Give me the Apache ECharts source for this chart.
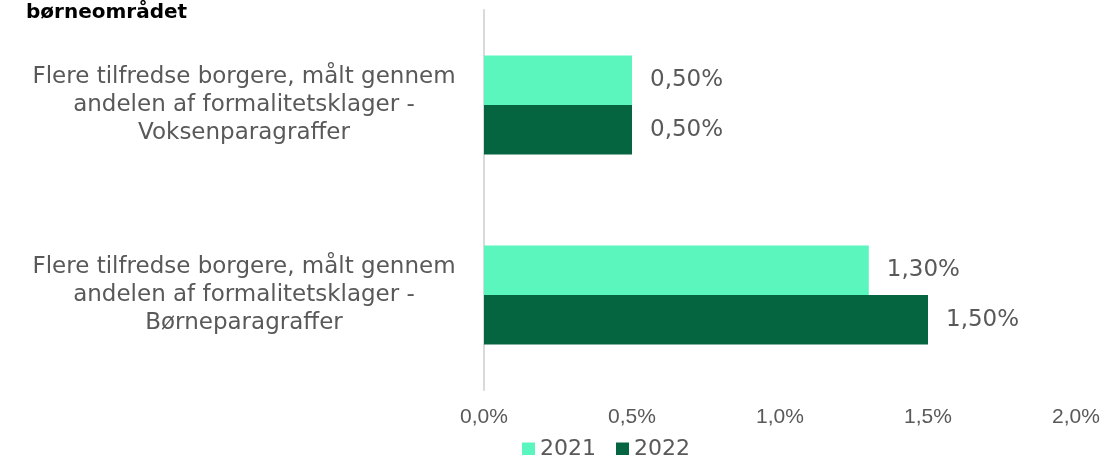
<!DOCTYPE html>
<html>
<head>
<meta charset="utf-8">
<script src="https://cdn.jsdelivr.net/npm/echarts@6/dist/echarts.min.js"></script>
<style>
  html, body { margin: 0; padding: 0; background: #fff; }
  #chart { width: 1110px; height: 455px; }
</style>
</head>
<body>
<div id="chart"></div>
<script>
// data
const categories = [
  'Flere tilfredse borgere, målt gennem\nandelen af formalitetsklager -\nVoksenparagraffer',
  'Flere tilfredse borgere, målt gennem\nandelen af formalitetsklager -\nBørneparagraffer'
]
const seriesNames = ['2021', '2022']
const values2021 = [0.5, 1.3]
const values2022 = [0.5, 1.5]
const xTicks = [0, 0.5, 1.0, 1.5, 2.0]

const colors = ['#5af6be', '#066541']
const font = '"DejaVu Sans", sans-serif'
const axisFont = '"Liberation Sans", Arial, sans-serif'
const gray = '#595959'

const fmtComma = (v, d) => v.toFixed(d).replace('.', ',') + '%'

let myChart = echarts.init(document.getElementById('chart'))

let barSeries = [values2021, values2022].map((data, i) => ({
  name: seriesNames[i],
  type: 'bar',
  data: data,
  barGap: '0%',
  barCategoryGap: '48%',
  itemStyle: { color: colors[i] },
  label: {
    show: true,
    position: 'right',
    distance: 18,
    color: gray,
    fontFamily: font,
    fontSize: 23,
    formatter: p => fmtComma(p.value, 2)
  }
}))

let options = {
  animation: false,
  title: {
    text: 'børneområdet',
    left: 21,
    top: -2,
    textStyle: { fontFamily: font, fontSize: 20, fontWeight: 'bold', color: '#000' }
  },
  legend: {
    data: seriesNames,
    top: 433,
    left: 517,
    icon: 'rect',
    itemWidth: 13,
    itemHeight: 13,
    itemGap: 20,
    textStyle: { fontFamily: font, fontSize: 22, color: gray }
  },
  grid: { left: 484, right: 34, top: 10, bottom: 65 },
  xAxis: {
    type: 'value',
    min: xTicks[0],
    max: xTicks[xTicks.length - 1],
    interval: 0.5,
    axisLine: { show: false },
    axisTick: { show: false },
    splitLine: { show: false },
    axisLabel: {
      margin: 17,
      color: gray,
      fontFamily: axisFont,
      fontSize: 21,
      formatter: v => fmtComma(v, 1)
    }
  },
  yAxis: {
    type: 'category',
    inverse: true,
    data: categories,
    axisLine: { show: true, lineStyle: { color: '#d9d9d9', width: 2 } },
    axisTick: { show: false },
    axisLabel: {
      margin: 240,
      align: 'center',
      color: gray,
      fontFamily: font,
      fontSize: 23,
      lineHeight: 28
    }
  },
  series: barSeries
}
myChart.setOption(options)
</script>
</body>
</html>
